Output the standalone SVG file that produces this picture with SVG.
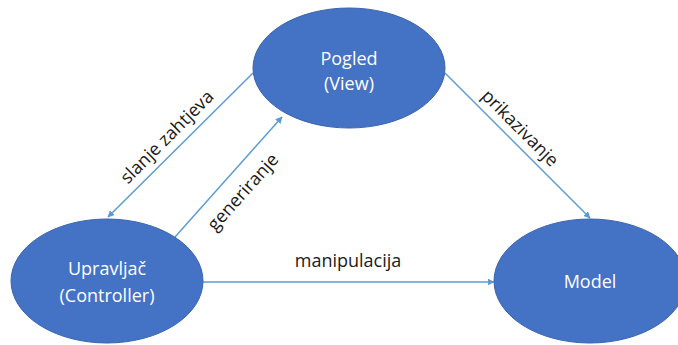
<svg xmlns="http://www.w3.org/2000/svg" width="678" height="345" viewBox="0 0 678 345">
<style>
.node{fill:#4472C4;stroke:#3A64AE;stroke-width:1}
.nt{font-family:"Open Sans","Liberation Sans",Arial,sans-serif;font-size:18px;fill:#ffffff;text-anchor:middle}
.lt{font-family:"Open Sans","Liberation Sans",Arial,sans-serif;font-size:18px;fill:#1a1a1a;text-anchor:middle}
.edge{stroke:#5B9BD5;stroke-width:1.5;fill:none;marker-end:url(#arr)}
</style>
<defs>
<marker id="arr" viewBox="0 0 10 10" refX="9" refY="5" markerWidth="7" markerHeight="7" markerUnits="userSpaceOnUse" orient="auto">
<path d="M0,0 L10,5 L0,10 z" fill="#5B9BD5"/>
</marker>
</defs>
<rect width="678" height="345" fill="#ffffff"/>
<g id="connectors">
<line class="edge" x1="253" y1="73" x2="108" y2="217"/>
<line class="edge" x1="175" y1="237" x2="282" y2="117"/>
<line class="edge" x1="445" y1="73" x2="590" y2="218"/>
<line class="edge" x1="203" y1="282" x2="494" y2="282"/>
<text class="lt" transform="translate(167,137) rotate(-45)" y="6">slanje zahtjeva</text>
<text class="lt" transform="translate(243,192) rotate(-48)" y="6">generiranje</text>
<text class="lt" transform="translate(520,128) rotate(45)" y="6">prikazivanje</text>
<text class="lt" x="348" y="267">manipulacija</text>
</g>
<g id="view">
<ellipse class="node" cx="349" cy="68" rx="96" ry="60"/>
<text class="nt" x="349" y="65">Pogled</text>
<text class="nt" x="349" y="90">(View)</text>
</g>
<g id="controller">
<ellipse class="node" cx="107" cy="281" rx="96" ry="62"/>
<text class="nt" x="107" y="275">Upravljač</text>
<text class="nt" x="107" y="302">(Controller)</text>
</g>
<g id="model">
<ellipse class="node" cx="590" cy="281" rx="96" ry="62"/>
<text class="nt" x="590" y="288">Model</text>
</g>
</svg>
